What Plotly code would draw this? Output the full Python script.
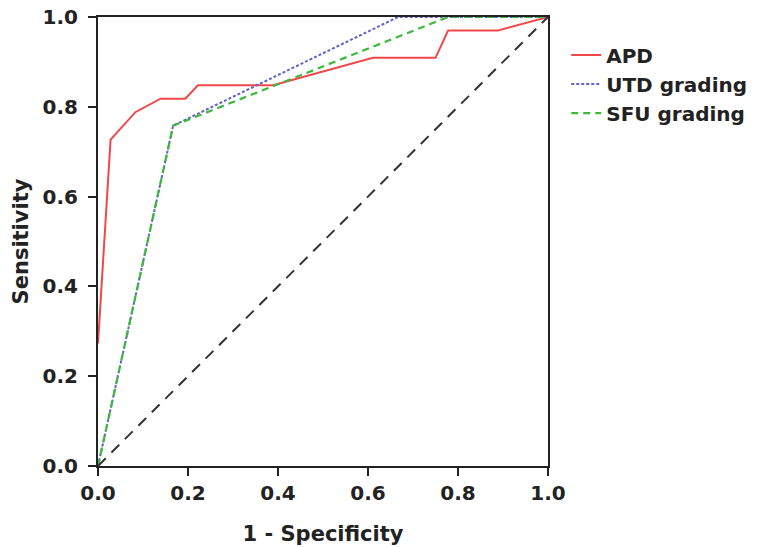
import plotly.graph_objects as go

# ROC curve data
apd_fpr = [0.0, 0.028, 0.083, 0.139, 0.194, 0.222, 0.389, 0.611, 0.75, 0.778, 0.889, 1.0]
apd_tpr = [0.273, 0.727, 0.788, 0.818, 0.818, 0.848, 0.848, 0.909, 0.909, 0.970, 0.970, 1.0]

utd_fpr = [0.0, 0.167, 0.667, 1.0]
utd_tpr = [0.0, 0.758, 1.0, 1.0]

sfu_fpr = [0.0, 0.167, 0.778, 1.0]
sfu_tpr = [0.0, 0.758, 1.0, 1.0]

ref_fpr = [0.0, 1.0]
ref_tpr = [0.0, 1.0]

tick_vals = [0.0, 0.2, 0.4, 0.6, 0.8, 1.0]
tick_text = ["0.0", "0.2", "0.4", "0.6", "0.8", "1.0"]

FONT = "DejaVu Sans"

fig = go.Figure()
fig.add_trace(go.Scatter(x=apd_fpr, y=apd_tpr, mode="lines", name="APD",
                         line=dict(color="#f04848", width=2)))
fig.add_trace(go.Scatter(x=utd_fpr, y=utd_tpr, mode="lines", name="UTD grading",
                         line=dict(color="#6262c8", width=2, dash="3px,2px")))
fig.add_trace(go.Scatter(x=sfu_fpr, y=sfu_tpr, mode="lines", name="SFU grading",
                         line=dict(color="#3cb83c", width=2.2, dash="7px,5px")))
fig.add_trace(go.Scatter(x=ref_fpr, y=ref_tpr, mode="lines", showlegend=False,
                         line=dict(color="#333333", width=2, dash="11px,8px")))

axis_common = dict(
    range=[0, 1], tickvals=tick_vals, ticktext=tick_text, automargin=False,
    showgrid=False, zeroline=False, showline=True, linecolor="#222222", linewidth=2,
    mirror=True, ticks="outside", ticklen=8, tickwidth=2, tickcolor="#222222",
    tickfont=dict(family=FONT, size=20, color="#222222", weight="bold"),
)

fig.update_layout(
    width=757, height=547,
    margin=dict(l=98, r=209, t=17, b=81),
    paper_bgcolor="white", plot_bgcolor="white",
    xaxis=dict(**axis_common,
               title=dict(text="1 - Specificity", standoff=22,
                          font=dict(family=FONT, size=21, color="#222222", weight="bold"))),
    yaxis=dict(**axis_common, ticklabelstandoff=6,
               title=dict(text="Sensitivity", standoff=8,
                          font=dict(family=FONT, size=21, color="#222222", weight="bold"))),
    legend=dict(xref="container", yref="container", x=0.748, y=0.935,
                xanchor="left", yanchor="top",
                font=dict(family=FONT, size=20, color="#222222", weight="bold"),
                bgcolor="rgba(0,0,0,0)", tracegroupgap=0),
    showlegend=True,
)

fig.write_html("out.html")
